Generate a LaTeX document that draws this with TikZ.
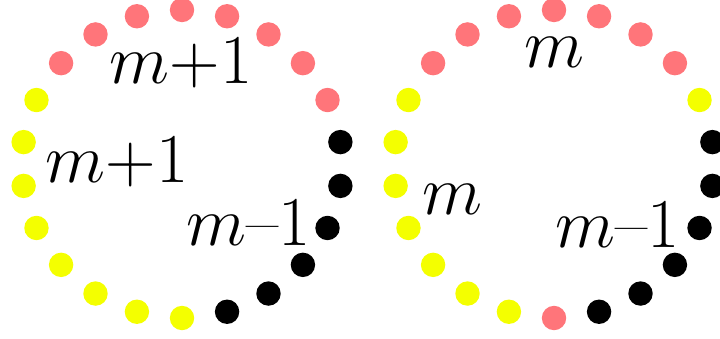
\documentclass[tikz,border=0pt]{standalone}
\usepackage{graphicx}
\usepackage{xcolor}
\definecolor{dotpink}{RGB}{255,117,122}
\definecolor{dotyellow}{RGB}{244,255,0}
\newcommand{\cnt}[1]{\scalebox{2.0}{#1}}

\begin{document}
\begin{tikzpicture}[x=0.025cm, y=-0.025cm,
  dot/.style={circle, fill=#1, inner sep=0pt, minimum size=0.61cm},
  count/.style={anchor=base, inner sep=0pt, font=\Huge}]
\useasboundingbox (0,0) rectangle (720,339);
% left ring: m+1 pink, m+1 yellow, m-1 black
\foreach \c [count=\k from 0] in {dotpink,dotpink,dotpink,dotpink,
  dotyellow,dotyellow,dotyellow,dotyellow,dotyellow,dotyellow,dotyellow,dotyellow,
  black,black,black,black,black,black,dotpink,dotpink,dotpink,dotpink}
  \node[dot=\c] (L\k) at ({182+160*cos(90+\k*360/22)},{164-154*sin(90+\k*360/22)}) {};
% right ring: after the swap
\foreach \c [count=\k from 0] in {dotpink,dotpink,dotpink,dotpink,
  dotyellow,dotyellow,dotyellow,dotyellow,dotyellow,dotyellow,dotyellow,dotpink,
  black,black,black,black,black,black,dotyellow,dotpink,dotpink,dotpink}
  \node[dot=\c] (R\k) at ({554+160*cos(90+\k*360/22)},{164-154*sin(90+\k*360/22)}) {};
\node[count] (lpink) at (181,84) {\cnt{$m$+1}};
\node[count] (lyellow) at (117,183) {\cnt{$m$+1}};
\node[count] (lblack) at (249,245) {\cnt{$m$--1}};
\node[count] (rpink) at (554,68) {\cnt{$m$}};
\node[count] (ryellow) at (452,215) {\cnt{$m$}};
\node[count] (rblack) at (618,247) {\cnt{$m$--1}};
\end{tikzpicture}
\end{document}
